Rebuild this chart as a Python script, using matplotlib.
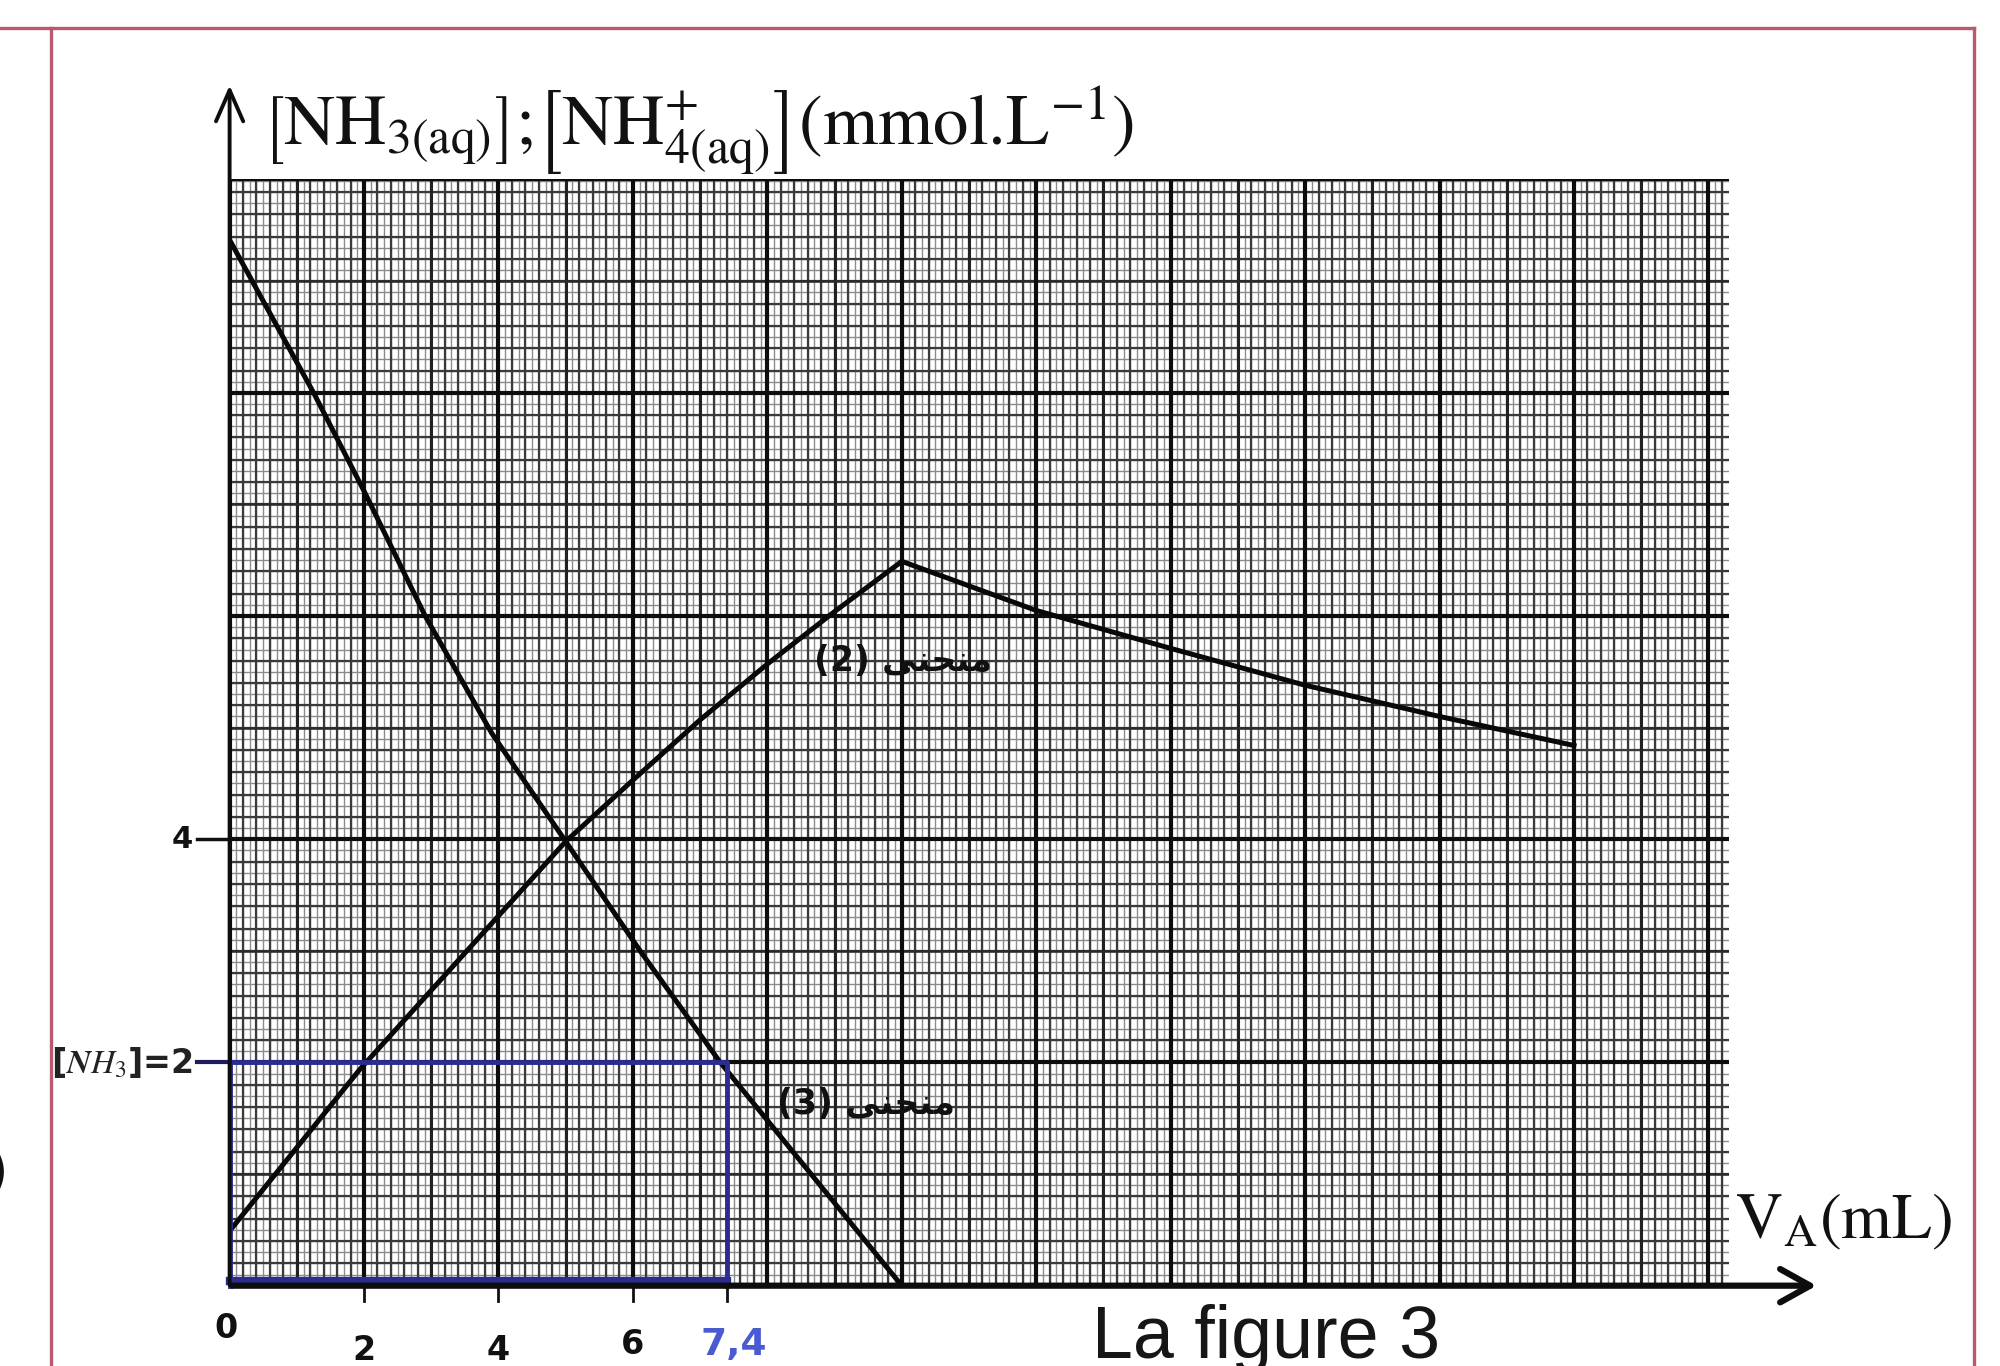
import numpy as np
from matplotlib import pyplot as plt

plt.rcParams['mathtext.fontset'] = 'stix'

# values (V_A in mL, concentrations in mmol/L)
va_nh3 = [0, 1.25, 2.0, 2.91, 3.9, 5.0, 6.13, 7.3, 10]
c_nh3 = [9.37, 8.0, 7.12, 6.0, 4.95, 3.98, 2.98, 2.0, 0]

va_nh4 = [0, 1.94, 5.0, 6.0, 7.0, 8.0, 9.0, 10, 12, 14, 16, 18, 20]
c_nh4 = [0.49, 1.94, 3.98, 4.53, 5.07, 5.57, 6.04, 6.49, 6.05, 5.71, 5.38, 5.10, 4.84]

xtick_vals = [0, 2, 4, 6]
xtick_labels = ['0', '2', '4', '6']
v_eq_half = 7.4
c_mark = 2

XMAX, YMAX = 22.3, 9.92

fig = plt.figure(figsize=(20, 13.66), dpi=100)
ax = fig.add_axes([0.1148, 0.0588, 0.7495, 0.8105])
ax.set_xlim(0, XMAX)
ax.set_ylim(0, YMAX)
ax.axis('off')

# graph paper
fine_x = np.arange(0, XMAX, 0.1)
fine_y = np.arange(0, YMAX, 0.1)
ax.vlines(fine_x, 0, YMAX, color='#8c8c8c', lw=1.0)
ax.hlines(fine_y, 0, XMAX, color='#8c8c8c', lw=1.0)
ax.vlines(np.arange(0, XMAX, 0.2), 0, YMAX, color='#3a3a3a', lw=1.6)
ax.hlines(np.arange(0, YMAX, 0.2), 0, XMAX, color='#3a3a3a', lw=1.6)
ax.vlines(np.arange(1, XMAX, 2), 0, YMAX, color='#222222', lw=2.2)
ax.hlines(np.arange(1, YMAX, 2), 0, XMAX, color='#2a2a2a', lw=1.8)
ax.vlines(np.arange(0, XMAX, 2), 0, YMAX, color='#0d0d0d', lw=3.0)
ax.hlines(np.arange(0, YMAX, 2), 0, XMAX, color='#0d0d0d', lw=3.0)
ax.hlines([YMAX], 0, XMAX, color='#0d0d0d', lw=3.0)

# curves
ax.plot(va_nh3, c_nh3, color='#080808', lw=3.6, solid_joinstyle='round')
ax.plot(va_nh4, c_nh4, color='#080808', lw=3.6, solid_joinstyle='round')

# blue construction rectangle
blue = '#2b2b92'
ax.plot([0, v_eq_half, v_eq_half], [c_mark, c_mark, 0], color=blue, lw=3.5, clip_on=False)
ax.plot([0, 0], [0, c_mark], color=blue, lw=3.5, clip_on=False)
ax.plot([0, v_eq_half], [0.04, 0.04], color=blue, lw=6, clip_on=False)

# axes with arrows
ax.annotate('', xy=(23.65, 0), xytext=(0, 0), annotation_clip=False,
            arrowprops=dict(arrowstyle='->,head_length=0.9,head_width=0.5', lw=4.5,
                            color='#0d0d0d', mutation_scale=24))
ax.annotate('', xy=(0, 10.78), xytext=(0, -0.02), annotation_clip=False,
            arrowprops=dict(arrowstyle='->,head_length=0.8,head_width=0.35', lw=2.8,
                            color='#0d0d0d', mutation_scale=28))

# y ticks
ax.plot([-0.48, 0], [4, 4], color='#111111', lw=2.5, clip_on=False)
ax.plot([-0.48, 0], [c_mark, c_mark], color='#1d1d5a', lw=3, clip_on=False)
ax.text(-0.55, 4, '4', ha='right', va='center', fontsize=22, fontweight='bold', color='#111111')
ax.text(-0.55, c_mark, r'[$\boldsymbol{NH_3}$]=2', ha='right', va='center', fontsize=24,
        fontweight='bold', color='#222222')

# x ticks
for v in xtick_vals[1:] + [v_eq_half]:
    ax.plot([v, v], [0, -0.14], color='#111111', lw=2, clip_on=False)
ax.text(-0.05, -0.38, '0', ha='center', va='center', fontsize=24, fontweight='bold', color='#111111')
for v, lab in zip(xtick_vals[1:], xtick_labels[1:]):
    ax.text(v, -0.58 + 0.05 * (v == 6), lab, ha='center', va='center', fontsize=24,
            fontweight='bold', color='#111111')
ax.text(v_eq_half + 0.1, -0.53, '7,4', ha='center', va='center', fontsize=27,
        color='#4a5bd2', fontweight='bold')

# axis labels
fig.text(0.131, 0.894,
         r'$\left[\mathrm{NH_{3(aq)}}\right]$;$\left[\mathrm{NH^{+}_{4(aq)}}\right]$(mmol.L$^{-1}$)',
         ha='left', va='baseline', fontsize=51, color='#111111', family=['STIXGeneral'])
ax.text(22.4, 0.42, r'$\mathrm{V_{A}(mL)}$', ha='left', va='baseline', fontsize=47, color='#111111')

# curve labels (arabic in presentation forms, visual order)
word = '\ufef0\ufee8\ufea4\ufee8\ufee3'
ax.text(8.7, 5.6, '(2) ' + word, ha='left', va='center', fontsize=25, fontweight='bold',
        family=['DejaVu Sans'], color='#111111')
ax.text(8.15, 1.63, '(3) ' + word, ha='left', va='center', fontsize=25, fontweight='bold',
        family=['DejaVu Sans'], color='#111111')

fig.text(0.633, 0.006, 'La figure 3', ha='center', va='baseline', fontsize=53,
         family=['Liberation Sans'], color='#161616')
fig.text(0.004, 0.141, ')', ha='right', va='center', fontsize=40, color='#111111')

# red frame of the page
red = '#b95a6c'
fig.add_artist(plt.Line2D([0, 0.987], [0.9795, 0.9795], color=red, lw=2.4))
fig.add_artist(plt.Line2D([0.0255, 0.0255], [0, 0.9795], color=red, lw=2.4))
fig.add_artist(plt.Line2D([0.987, 0.987], [0, 0.9795], color=red, lw=2.4))

fig.savefig('out.png', dpi=100, facecolor='white')
